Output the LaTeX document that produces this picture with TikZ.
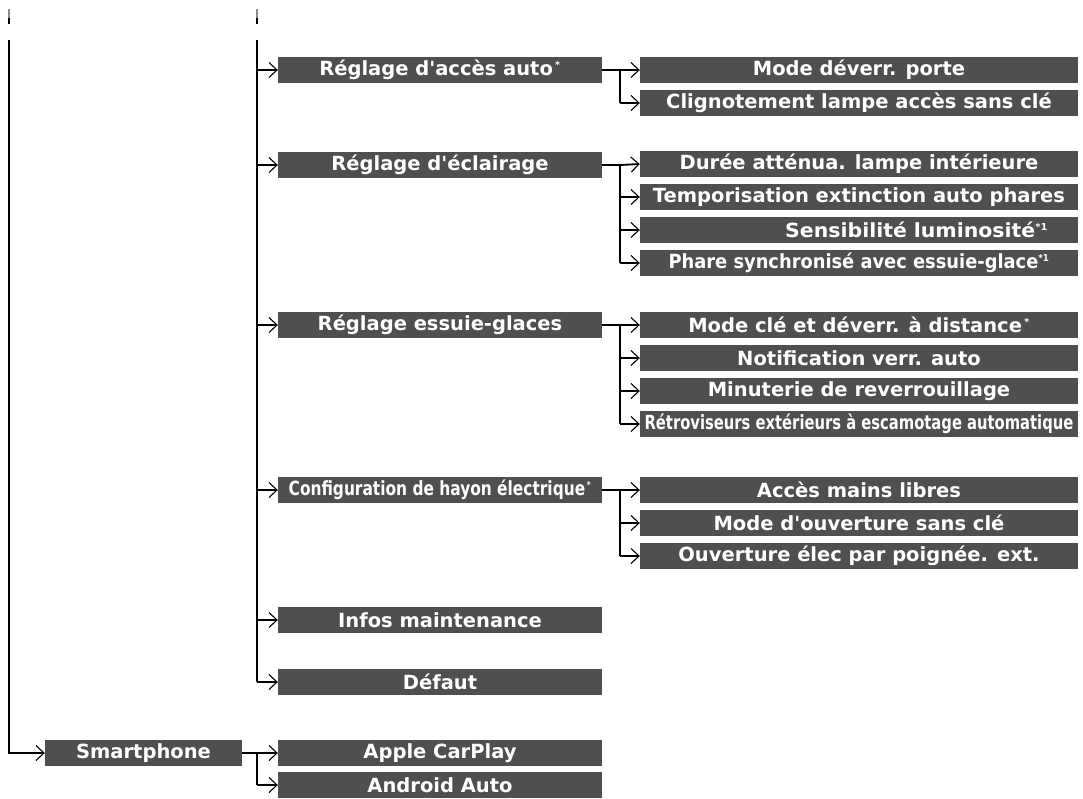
\documentclass[tikz,border=0pt]{standalone}
\usepackage{fontspec}
\setmainfont{DejaVu Sans}
\newfontfamily\boxfont{DejaVu Sans}
\usetikzlibrary{arrows.meta}
\definecolor{boxgray}{HTML}{4F4F4F}
\definecolor{stubgray}{HTML}{8A8A8A}
\newcommand{\cnd}[2]{\scalebox{#1}[1]{#2}}
\newcommand{\sstar}{\textsuperscript{\,\fontsize{9.5}{9.5}\selectfont *}}
\newcommand{\sone}{\textsuperscript{\fontsize{9.5}{9.5}\selectfont *1}}
\begin{document}
\begin{tikzpicture}[x=1pt,y=-1pt,
  box/.style={fill=boxgray, text=white, minimum height=26pt, inner sep=0pt, anchor=center,
    font=\boxfont\bfseries\fontsize{19.5}{21}\selectfont},
  lone/.style={box, minimum width=324pt},
  ltwo/.style={box, minimum width=438pt},
  lsm/.style={box, minimum width=197pt},
  ln/.style={line width=1.8pt},
  arr/.style={line width=1.8pt, -{Straight Barb[length=8pt,width=15pt,line width=1.1pt]}}
]
\useasboundingbox (0,0) rectangle (1083,798);

% top stubs
\draw[stubgray,line width=1.8pt] (9,9) -- (9,18);
\draw[line width=1.8pt] (9,18) -- (9,24);
\draw[stubgray,line width=1.8pt] (257,9) -- (257,18);
\draw[line width=1.8pt] (257,18) -- (257,24);

% level 1 nodes
\node[lone] (acc) at (440,70) {Réglage d'accès auto\sstar};
\node[lone] (ecl) at (440,165) {Réglage d'éclairage};
\node[lone] (ess) at (440,325) {Réglage essuie-glaces};
\node[lone] (hay) at (440,490) {\cnd{0.79}{Configuration de hayon électrique\sstar}};
\node[lone] (inf) at (440,620) {Infos maintenance};
\node[lone] (def) at (440,682) {Défaut};

% level 2 nodes
\node[ltwo] (acc1) at (859,70) {Mode déverr. porte};
\node[ltwo] (acc2) at (859,103) {Clignotement lampe accès sans clé};
\node[ltwo] (ecl1) at (859,164) {Durée atténua. lampe intérieure};
\node[ltwo] (ecl2) at (859,197) {Temporisation extinction auto phares};
\node[ltwo, text width=438pt, align=right] (ecl3) at (859,230) {\cnd{1.05}{Sensibilité luminosité\sone}\hspace*{30pt}};
\node[ltwo] (ecl4) at (859,263) {\cnd{0.915}{Phare synchronisé avec essuie-glace\sone}};
\node[ltwo] (ess1) at (859,325) {Mode clé et déverr. à distance\sstar};
\node[ltwo] (ess2) at (859,358) {Notification verr. auto};
\node[ltwo] (ess3) at (859,391) {Minuterie de reverrouillage};
\node[ltwo] (ess4) at (859,424) {\cnd{0.757}{Rétroviseurs extérieurs à escamotage automatique}};
\node[ltwo] (hay1) at (859,490) {Accès mains libres};
\node[ltwo] (hay2) at (859,523) {Mode d'ouverture sans clé};
\node[ltwo] (hay3) at (859,556) {Ouverture élec par poignée. ext.};

% smartphone
\node[lsm] (sm) at (143.5,753) {Smartphone};
\node[lone] (sm1) at (440,753) {Apple CarPlay};
\node[lone] (sm2) at (440,785) {Android Auto};

% main verticals
\coordinate (t0) at (9,40);
\coordinate (t1) at (257,40);
\draw[ln] (t0) |- ([xshift=-10pt]sm.west);
\draw[arr] ([xshift=-11pt]sm.west) -- (sm.west);
\draw[ln] (t1) -- (257,682);

% level-1 arrows
\foreach \n in {acc,ecl,ess,hay,inf,def}{
  \draw[arr] (\n.west -| t1) -- (\n.west);
}

% level-2 branches
\coordinate (bx) at (620,0);
\draw[ln] (acc.east) -- (acc.east -| bx) |- (acc2.west -| bx);
\draw[arr] (acc.east) -- (acc1.west);
\draw[arr] (acc2.west -| bx) -- (acc2.west);

\draw[ln] (ecl.east) -- (ecl.east -| bx) -- (ecl4.west -| bx);
\draw[arr] (ecl.east -| bx) -- (ecl1.west);
\foreach \n in {ecl2,ecl3,ecl4}{\draw[arr] (\n.west -| bx) -- (\n.west);}

\draw[ln] (ess.east) -- (ess.east -| bx) -- (ess4.west -| bx);
\draw[arr] (ess.east) -- (ess1.west);
\foreach \n in {ess2,ess3,ess4}{\draw[arr] (\n.west -| bx) -- (\n.west);}

\draw[ln] (hay.east) -- (hay.east -| bx) -- (hay3.west -| bx);
\draw[arr] (hay.east) -- (hay1.west);
\foreach \n in {hay2,hay3}{\draw[arr] (\n.west -| bx) -- (\n.west);}

\coordinate (sx) at (257,0);
\draw[ln] (sm.east -| sx) -- (sm2.west -| sx);
\draw[arr] (sm.east) -- (sm1.west);
\draw[arr] (sm2.west -| sx) -- (sm2.west);
\end{tikzpicture}
\end{document}
